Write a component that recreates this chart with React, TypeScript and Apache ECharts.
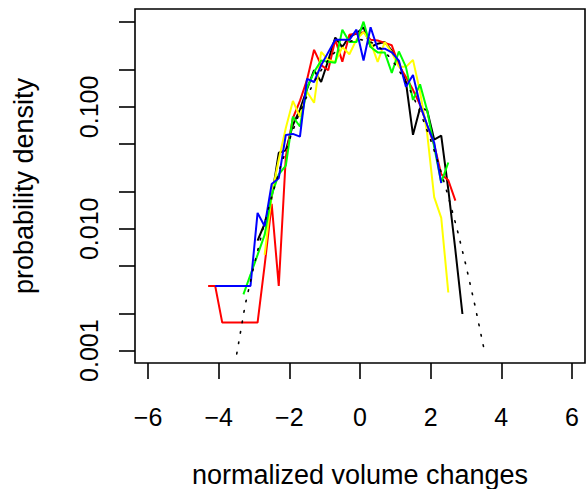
import React, { useEffect, useRef } from "react";
import * as echarts from "echarts";

// bin centres of the histograms (normalized volume changes)
const binCenters = [
  -4.3, -4.1, -3.9, -3.7, -3.5, -3.3, -3.1, -2.9, -2.7, -2.5, -2.3, -2.1, -1.9,
  -1.7, -1.5, -1.3, -1.1, -0.9, -0.7, -0.5, -0.3, -0.1, 0.1, 0.3, 0.5, 0.7, 0.9,
  1.1, 1.3, 1.5, 1.7, 1.9, 2.1, 2.3, 2.5, 2.7, 2.9,
];

const blackDensity = [
  null, null, null, null, null, null, null, 0.008, 0.011, 0.018, 0.042, 0.044, 0.071,
  0.095, 0.14, 0.2, 0.16, 0.24, 0.37, 0.31, 0.38, 0.4, 0.45, 0.31, 0.33, 0.34, 0.29,
  0.23, 0.16, 0.059, 0.098, 0.094, 0.054, 0.058, 0.021, 0.0067, 0.002,
];

const redDensity = [
  0.0034, 0.0034, 0.0017, 0.0017, 0.0017, 0.0017, 0.0017, 0.0017, 0.005, 0.016, 0.0034, 0.039, 0.081,
  0.112, 0.167, 0.294, 0.22, 0.2, 0.356, 0.235, 0.39, 0.4, 0.41, 0.356, 0.35, 0.335, 0.32,
  0.22, 0.176, 0.138, 0.104, 0.071, 0.049, 0.028, 0.025, 0.017, null,
];

const yellowDensity = [
  null, null, null, null, null, null, null, null, 0.0061, 0.019, 0.037, 0.067, 0.112,
  0.083, 0.133, 0.108, 0.283, 0.243, 0.234, 0.31, 0.27, 0.356, 0.41, 0.34, 0.234, 0.34, 0.28,
  0.213, 0.213, 0.243, 0.133, 0.061, 0.0182, 0.0123, 0.003, null, null,
];

const greenDensity = [
  null, null, null, null, null, 0.0029, 0.0042, 0.0061, 0.0089, 0.019, 0.028, 0.033, 0.083,
  0.069, 0.143, 0.193, 0.24, 0.235, 0.23, 0.43, 0.34, 0.34, 0.5, 0.31, 0.28, 0.28, 0.19,
  0.285, 0.213, 0.114, 0.153, 0.094, 0.047, 0.024, 0.035, null, null,
];

const blueDensity = [
  null, 0.0034, 0.0034, 0.0034, 0.0034, 0.0034, 0.0034, 0.0135, 0.0105, 0.0233, 0.026, 0.0589, 0.06,
  0.057, 0.17, 0.16, 0.22, 0.28, 0.355, 0.355, 0.355, 0.43, 0.24, 0.45, 0.3, 0.3, 0.28,
  0.24, 0.146, 0.183, 0.104, 0.071, 0.051, 0.0237, null, null, null,
];

// dotted reference curve
const dottedX = [
  -3.49, -3.25, -3.0, -2.75, -2.5, -2.25, -2.0, -1.75, -1.5, -1.25, -1.0, -0.75, -0.5, -0.25,
  0, 0.25, 0.5, 0.75, 1.0, 1.25, 1.5, 1.75, 2.0, 2.25, 2.5, 2.75, 3.0, 3.25, 3.54,
];
const dottedDensity = [
  0.00094, 0.00238, 0.005, 0.0099, 0.0184, 0.0324, 0.0536, 0.0836, 0.123, 0.17, 0.222, 0.274, 0.317, 0.347,
  0.357, 0.347, 0.317, 0.274, 0.222, 0.17, 0.123, 0.0836, 0.0536, 0.0324, 0.0184, 0.0099, 0.005, 0.00238, 0.00094,
];

const xTicks = [-6, -4, -2, 0, 2, 4, 6];
const yTicks = [0.001, 0.002, 0.005, 0.01, 0.02, 0.05, 0.1, 0.2, 0.5];
const yLabelValues = [0.001, 0.01, 0.1];

const FONT = "'Liberation Sans', Arial, Helvetica, sans-serif";

function pairs(xs: number[], ys: (number | null)[]) {
  const out: number[][] = [];
  xs.forEach((x, i) => {
    const v = ys[i];
    if (v != null) out.push([x, Math.log10(v)]);
  });
  return out;
}

function lineSeries(data: number[][], color: string, extra: any = {}) {
  return {
    type: "line",
    data,
    symbol: "none",
    showSymbol: false,
    lineStyle: { color, width: 2, ...extra },
    itemStyle: { color },
    z: 2,
  };
}

export default function App() {
  const ref = useRef<HTMLDivElement>(null);
  useEffect(() => {
    if (!ref.current) return;
    const chart = echarts.init(ref.current, null, { renderer: "svg" });
    chart.setOption({
      animation: false,
      backgroundColor: "#fff",
      grid: {
        left: 135,
        top: 9,
        right: 1,
        bottom: 126,
        show: true,
        containLabel: false,
        outerBoundsMode: "none",
        borderColor: "#000",
        borderWidth: 1.6,
        backgroundColor: "transparent",
      },
      xAxis: {
        type: "value",
        min: -6.37,
        max: 6.37,
        axisLine: { show: false, onZero: false },
        splitLine: { show: false },
        axisTick: {
          show: true,
          length: 16,
          customValues: xTicks,
          lineStyle: { color: "#000", width: 1.6 },
        },
        axisLabel: {
          customValues: xTicks,
          fontSize: 25,
          color: "#000",
          fontFamily: FONT,
          margin: 41,
          formatter: (v: number) => (v < 0 ? "\u2212" + Math.abs(v) : String(v)),
        },
        name: "normalized volume changes",
        nameLocation: "middle",
        nameGap: 98,
        nameTextStyle: { fontSize: 27, color: "#000", fontFamily: FONT },
      },
      yAxis: {
        type: "value",
        min: -3.101,
        max: -0.197,
        axisLine: { show: false, onZero: false },
        splitLine: { show: false },
        axisTick: {
          show: true,
          length: 16,
          customValues: yTicks.map((t) => Math.log10(t)),
          lineStyle: { color: "#000", width: 1.6 },
        },
        axisLabel: {
          customValues: yLabelValues.map((t) => Math.log10(t)),
          rotate: 90,
          fontSize: 25,
          color: "#000",
          fontFamily: FONT,
          margin: 34,
          formatter: (v: number) => Math.pow(10, v).toFixed(3),
        },
        name: "probability density",
        nameLocation: "middle",
        nameRotate: 90,
        nameGap: 98,
        nameTextStyle: { fontSize: 27, color: "#000", fontFamily: FONT },
      },
      series: [
        lineSeries(pairs(binCenters, blackDensity), "#000000"),
        lineSeries(pairs(binCenters, redDensity), "#ff0000"),
        lineSeries(pairs(binCenters, yellowDensity), "#ffff00"),
        lineSeries(pairs(binCenters, greenDensity), "#00ff00"),
        lineSeries(pairs(binCenters, blueDensity), "#0000ff"),
        lineSeries(pairs(dottedX, dottedDensity), "#000000", {
          width: 1.6,
          type: [1.6, 9],
          cap: "round",
        }),
      ],
    });
    return () => chart.dispose();
  }, []);
  return (
    <div
      ref={ref}
      style={{ position: "fixed", left: 0, top: 0, width: 586, height: 489, background: "#fff" }}
    />
  );
}
